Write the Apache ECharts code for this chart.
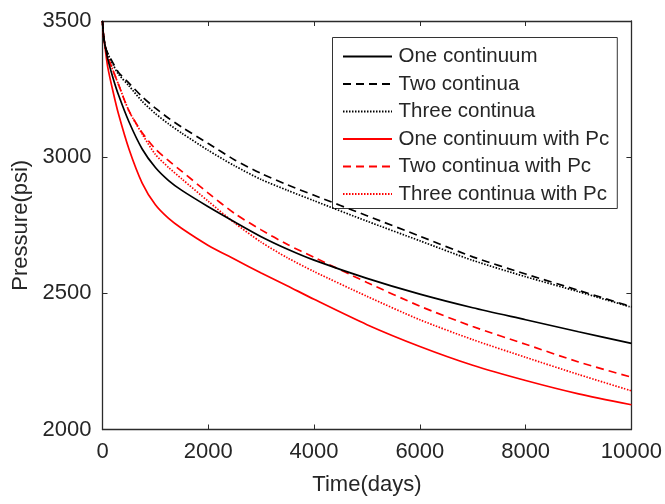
<!DOCTYPE html>
<html>
<head>
<meta charset="utf-8">
<script src="https://cdn.jsdelivr.net/npm/echarts@6/dist/echarts.min.js"></script>
<style>
html,body{margin:0;padding:0;background:#fff;}
#chart{width:665px;height:504px;}
</style>
</head>
<body>
<div id="chart"></div>
<script>
const days = [0, 20, 60, 100, 200, 300, 500, 750, 1000, 1250, 1500, 2000, 2500, 3000, 3500, 4000, 5000, 6000, 7000, 8000, 9000, 10000];
const oneContinuum      = [3500, 3445, 3400, 3360, 3290, 3230, 3130, 3030, 2962, 2914, 2878, 2818, 2762, 2708, 2662, 2622, 2555, 2497, 2447, 2403, 2359, 2316];
const twoContinua       = [3500, 3445, 3400, 3382, 3345, 3312, 3272, 3222, 3180, 3143, 3110, 3050, 2990, 2940, 2898, 2860, 2785, 2710, 2634, 2571, 2511, 2451];
const threeContinua     = [3500, 3445, 3400, 3380, 3340, 3305, 3262, 3205, 3160, 3122, 3088, 3025, 2968, 2918, 2878, 2840, 2765, 2693, 2621, 2561, 2506, 2449];
const oneContinuumPc    = [3500, 3445, 3385, 3330, 3240, 3160, 3030, 2905, 2825, 2775, 2738, 2676, 2625, 2575, 2527, 2478, 2385, 2305, 2236, 2180, 2131, 2091];
const twoContinuaPc     = [3500, 3445, 3400, 3370, 3318, 3268, 3170, 3090, 3030, 2987, 2948, 2868, 2793, 2733, 2679, 2632, 2540, 2453, 2378, 2313, 2248, 2192];
const threeContinuaPc   = [3500, 3445, 3400, 3370, 3318, 3268, 3170, 3085, 3010, 2962, 2920, 2838, 2758, 2688, 2630, 2580, 2489, 2403, 2330, 2265, 2202, 2142];
const xTicks = [0, 2000, 4000, 6000, 8000, 10000];
const yTicks = [2000, 2500, 3000, 3500];

const names = ['One continuum', 'Two continua', 'Three continua', 'One continuum with Pc', 'Two continua with Pc', 'Three continua with Pc'];
const values = [oneContinuum, twoContinua, threeContinua, oneContinuumPc, twoContinuaPc, threeContinuaPc];
const colors = ['#000000', '#000000', '#000000', '#ff0000', '#ff0000', '#ff0000'];
const dashes = ['solid', [8, 5], [1.5, 1.5], 'solid', [8, 5], [1.5, 1.5]];

const font = 'Liberation Sans, Arial, sans-serif';
const axisColor = '#2b2b2b';
const textColor = '#262626';

const series = names.map((n, i) => ({
  name: n,
  type: 'line',
  xAxisIndex: 0,
  yAxisIndex: 0,
  data: days.map((d, k) => [d, values[i][k]]),
  symbol: 'none',
  showSymbol: false,
  smooth: 0.25,
  lineStyle: { color: colors[i], width: 1.7, type: dashes[i] },
  itemStyle: { color: colors[i] },
  z: 10 - i
}));

const plain = v => String(v);

const chart = echarts.init(document.getElementById('chart'), null, { renderer: 'canvas' });
chart.setOption({
  animation: false,
  backgroundColor: '#ffffff',
  textStyle: { fontFamily: font },
  grid: { left: 102.5, right: 33.5, top: 21, bottom: 74.5, show: false },
  xAxis: [
    {
      type: 'value', min: 0, max: 10000, interval: 2000, position: 'bottom',
      name: 'Time(days)', nameLocation: 'middle', nameGap: 44,
      nameTextStyle: { fontSize: 22, color: textColor, fontFamily: font },
      axisLine: { show: true, onZero: false, lineStyle: { color: axisColor, width: 1.3 } },
      axisTick: { show: true, inside: true, length: 5, lineStyle: { color: axisColor } },
      axisLabel: { fontSize: 22, color: textColor, margin: 11, fontFamily: font, formatter: plain },
      splitLine: { show: false }
    },
    {
      type: 'value', min: 0, max: 10000, interval: 2000, position: 'top',
      axisLine: { show: true, onZero: false, lineStyle: { color: axisColor, width: 1.3 } },
      axisTick: { show: true, inside: true, length: 5, lineStyle: { color: axisColor } },
      axisLabel: { show: false },
      splitLine: { show: false }
    }
  ],
  yAxis: [
    {
      type: 'value', min: 2000, max: 3500, interval: 500, position: 'left',
      name: 'Pressure(psi)', nameLocation: 'middle', nameGap: 68, nameRotate: 90,
      nameTextStyle: { fontSize: 22, color: textColor, fontFamily: font },
      axisLine: { show: true, onZero: false, lineStyle: { color: axisColor, width: 1.3 } },
      axisTick: { show: true, inside: true, length: 5, lineStyle: { color: axisColor } },
      axisLabel: { fontSize: 22, color: textColor, margin: 11, fontFamily: font, formatter: plain },
      splitLine: { show: false }
    },
    {
      type: 'value', min: 2000, max: 3500, interval: 500, position: 'right',
      axisLine: { show: true, onZero: false, lineStyle: { color: axisColor, width: 1.3 } },
      axisTick: { show: true, inside: true, length: 5, lineStyle: { color: axisColor } },
      axisLabel: { show: false },
      splitLine: { show: false }
    }
  ],
  legend: {
    orient: 'vertical',
    left: 332.5,
    top: 37.5,
    padding: [8.5, 8, 4, 9.5],
    itemWidth: 49,
    itemHeight: 14,
    itemGap: 6.5,
    backgroundColor: '#ffffff',
    borderColor: '#333333',
    borderWidth: 1,
    borderRadius: 0,
    itemStyle: { opacity: 0 },
    data: names,
    textStyle: { fontSize: 20.5, color: textColor, fontFamily: font, lineHeight: 20, padding: [0, 0, 0, 1.5] }
  },
  series: series
});
</script>
</body>
</html>
